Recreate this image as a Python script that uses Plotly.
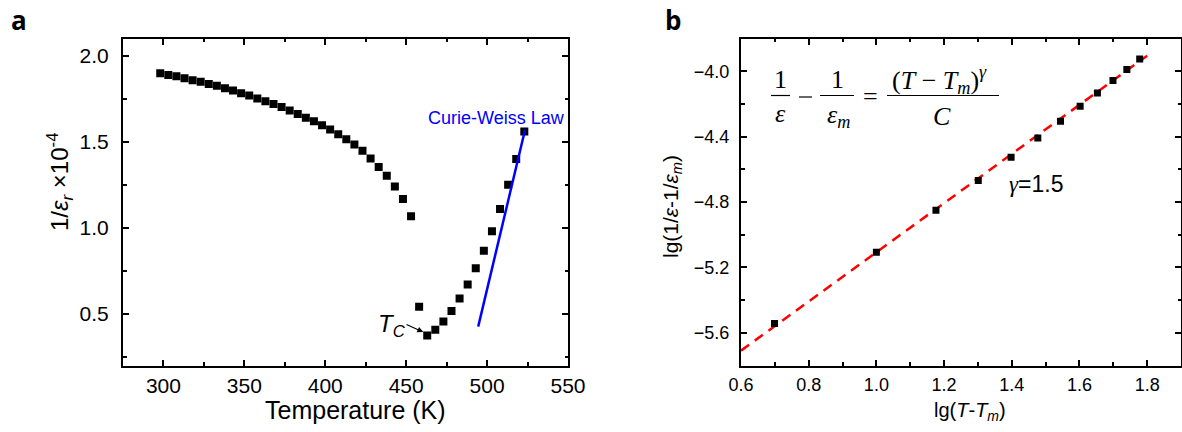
import plotly.graph_objects as go

W, H = 1182, 432

# ---------- Panel a data ----------
temp_high = [298, 303, 308, 313, 318, 323, 328, 333, 338, 343, 348, 353, 358, 363,
             368, 373, 378, 383, 388, 393, 398, 403, 408, 413, 418, 423, 428, 433,
             438, 443, 448, 453]
inv_eps_high = [1.898, 1.888, 1.880, 1.869, 1.857, 1.848, 1.836, 1.825, 1.811, 1.798,
                1.782, 1.769, 1.752, 1.736, 1.719, 1.702, 1.682, 1.661, 1.640, 1.619,
                1.596, 1.571, 1.544, 1.515, 1.484, 1.448, 1.403, 1.353, 1.302, 1.240,
                1.167, 1.067]
temp_low = [458, 463, 468, 473, 478, 483, 488, 493, 498, 503, 508, 513, 518, 523]
inv_eps_low = [0.542, 0.374, 0.407, 0.455, 0.517, 0.590, 0.671, 0.765, 0.867, 0.980,
               1.110, 1.250, 1.400, 1.560]
cw_temp = [494.5, 523.5]
cw_val = [0.426, 1.571]

# ---------- Panel b data ----------
lg_dT = [0.699, 1.000, 1.176, 1.301, 1.398, 1.477, 1.544, 1.602, 1.653, 1.699, 1.740, 1.778]
lg_inv = [-5.543, -5.107, -4.850, -4.669, -4.526, -4.408, -4.306, -4.214, -4.133, -4.057,
          -3.990, -3.925]
fit_x = [0.6, 1.8]
fit_y = [-5.709, -3.905]

FONT = "Liberation Sans"
SERIF = "Liberation Serif"

def px_x(p):
    return p / W

def px_y(p):
    return 1 - p / H

dom_a = [px_x(123), px_x(568)]
dom_b = [px_x(741), px_x(1181)]
dom_y = [px_y(365.5), px_y(38.5)]

fig = go.Figure()
fig.add_trace(go.Scatter(x=temp_high, y=inv_eps_high, mode="markers",
                         marker=dict(symbol="square", size=8, color="black"),
                         xaxis="x", yaxis="y", showlegend=False))
fig.add_trace(go.Scatter(x=temp_low, y=inv_eps_low, mode="markers",
                         marker=dict(symbol="square", size=8, color="black"),
                         xaxis="x", yaxis="y", showlegend=False))
fig.add_trace(go.Scatter(x=cw_temp, y=cw_val, mode="lines",
                         line=dict(color="#0000ff", width=2.5),
                         xaxis="x", yaxis="y", showlegend=False))
fig.add_trace(go.Scatter(x=fit_x, y=fit_y, mode="lines",
                         line=dict(color="#ff0000", width=2.5, dash="10px,7px"),
                         xaxis="x2", yaxis="y2", showlegend=False))
fig.add_trace(go.Scatter(x=lg_dT, y=lg_inv, mode="markers",
                         marker=dict(symbol="square", size=7, color="black"),
                         xaxis="x2", yaxis="y2", showlegend=False))

axis_common = dict(showline=True, linecolor="black", linewidth=2, mirror="allticks",
                   ticks="inside", ticklen=6, tickwidth=1.5, tickcolor="black",
                   showgrid=False, zeroline=False, automargin=False)
minor_common = dict(ticks="inside", ticklen=3.5, tickwidth=1.5, tickcolor="black")
tf_a = dict(family=FONT, size=21, color="black")
tf_b = dict(family=FONT, size=18, color="black")

fig.update_layout(
    width=W, height=H,
    margin=dict(l=0, r=0, t=0, b=0, autoexpand=False),
    paper_bgcolor="white", plot_bgcolor="white",
    xaxis=dict(domain=dom_a, range=[275, 550], tick0=300, dtick=50,
               minor=dict(dtick=25, **minor_common), tickfont=tf_a,
               ticklabelstandoff=0, anchor="y", **axis_common),
    yaxis=dict(domain=dom_y, range=[0.2, 2.1], tick0=0.5, dtick=0.5, tickformat=".1f",
               minor=dict(dtick=0.25, **minor_common), tickfont=tf_a,
               ticklabelstandoff=8, anchor="x", **axis_common),
    xaxis2=dict(domain=dom_b, range=[0.6, 1.9], tick0=0.6, dtick=0.2, tickformat=".1f",
                minor=dict(dtick=0.1, **minor_common), tickfont=tf_b,
                ticklabelstandoff=2, anchor="y2", **axis_common),
    yaxis2=dict(domain=dom_y, range=[-5.8, -3.8], tick0=-5.6, dtick=0.4, tickformat=".1f",
                minor=dict(dtick=0.2, **minor_common), tickfont=tf_b,
                ticklabelstandoff=6, anchor="x2", **axis_common),
)

ann = []

def note(t, x, y, size, family=FONT, color="black", angle=0):
    ann.append(dict(text=t, x=px_x(x), y=px_y(y), xref="paper", yref="paper",
                    xanchor="center", yanchor="middle", textangle=angle,
                    showarrow=False, font=dict(family=family, size=size, color=color)))

# panel letters
note("<b>a</b>", 19, 20, 26, family="Open Sans")
note("<b>b</b>", 673, 20, 26, family="Open Sans")
# axis titles
note("Temperature (K)", 355, 410, 25)
note("1/<i>ε</i><sub><i>r</i></sub> ×10<sup>-4</sup>", 60, 182, 24, angle=-90)
note("lg(<i>T</i>-<i>T</i><sub><i>m</i></sub>)", 970, 411, 20)
note("lg(1/<i>ε</i>-1/<i>ε</i><sub><i>m</i></sub>)", 672, 207, 21, angle=-90)

# Curie-Weiss text
ann.append(dict(text="Curie-Weiss Law", x=505.7, y=1.64, xref="x", yref="y", showarrow=False,
                xanchor="center", yanchor="middle",
                font=dict(family=FONT, size=18, color="#0000ff")))
# Tc label and arrow
ann.append(dict(text="<i>T</i><sub><i>C</i></sub>", x=441, y=0.432, xref="x", yref="y",
                xanchor="center", yanchor="middle",
                showarrow=False, font=dict(family=FONT, size=24, color="black")))
ann.append(dict(text="", x=460.6, y=0.394, ax=449.3, ay=0.442, xref="x", yref="y",
                axref="x", ayref="y", showarrow=True, arrowhead=2, arrowsize=1,
                arrowwidth=1.2, arrowcolor="black"))
# gamma text
ann.append(dict(text="<span style='font-family:Liberation Serif'><i>γ</i></span>=1.5",
                x=1.473, y=-4.69, xref="x2", yref="y2", showarrow=False,
                xanchor="center", yanchor="middle",
                font=dict(family=FONT, size=23, color="black")))
# equation
note("1", 780, 80, 26, family=SERIF)
note("<i>ε</i>", 780, 114, 26, family=SERIF)
note("1", 837, 80, 26, family=SERIF)
note("<i>ε</i><sub><i>m</i></sub>", 838, 116, 26, family=SERIF)
note("=", 870, 96, 26, family=SERIF)
note("(<i>T</i> − <i>T</i><sub><i>m</i></sub>)<sup><i>γ</i></sup>", 939, 80, 26, family=SERIF)
note("<i>C</i>", 942, 116, 26, family=SERIF)
fig.update_layout(annotations=ann)

shapes = []
for x0, x1 in [(771, 790), (820, 854), (887, 999)]:
    shapes.append(dict(type="line", xref="paper", yref="paper", x0=px_x(x0), x1=px_x(x1),
                       y0=px_y(95.5), y1=px_y(95.5), line=dict(color="black", width=1.2)))
shapes.append(dict(type="line", xref="paper", yref="paper", x0=px_x(799), x1=px_x(812),
                   y0=px_y(97), y1=px_y(97), line=dict(color="black", width=1.2)))
fig.update_layout(shapes=shapes)

fig.write_html("out.html")
